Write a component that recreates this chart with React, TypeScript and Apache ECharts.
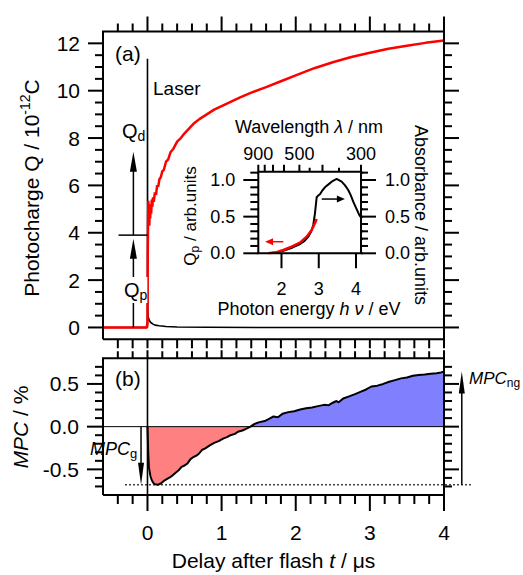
import React, { useEffect, useRef } from "react";
import * as echarts from "echarts";

const FONT = '"Liberation Sans", Arial, Helvetica, sans-serif';
const HC = 1240; // eV·nm, photon energy <-> wavelength

// ---------- Panel (a): photocharge vs delay ----------
const photochargeRed: number[][] = [
  [-0.6, 0], [-0.01, 0], [0, 0.2], [0.004, 3.2], [0.008, 4.5], [0.012, 5.35], [0.016, 4.7],
  [0.02, 5.1], [0.025, 4.3], [0.03, 5.2], [0.036, 4.6], [0.042, 5.0], [0.05, 4.8], [0.058, 5.4],
  [0.066, 5.1], [0.075, 5.5], [0.085, 5.3], [0.1, 5.7], [0.115, 5.6], [0.13, 6.0], [0.145, 5.95],
  [0.16, 6.25], [0.18, 6.35], [0.2, 6.6], [0.22, 6.65], [0.25, 7.0], [0.28, 7.1], [0.31, 7.4],
  [0.35, 7.55], [0.4, 7.85], [0.45, 8.0], [0.5, 8.2], [0.56, 8.4], [0.62, 8.6], [0.7, 8.8],
  [0.8, 9.0], [0.9, 9.2], [1.0, 9.35], [1.1, 9.5], [1.25, 9.72], [1.4, 9.92], [1.6, 10.15],
  [1.8, 10.4], [2.0, 10.65], [2.25, 10.95], [2.5, 11.2], [2.75, 11.42], [3.0, 11.6],
  [3.25, 11.77], [3.5, 11.9], [3.75, 12.02], [4.0, 12.12],
];
const laserSignal: number[][] = [
  [-0.6, 0], [0, 0], [0, 11.35], [0.002, 2.0], [0.004, 0.8], [0.01, 0.45], [0.02, 0.33],
  [0.04, 0.22], [0.07, 0.15], [0.1, 0.1], [0.16, 0.07], [0.25, 0.04], [0.4, 0.02], [0.8, 0.01],
  [1.5, 0], [4.0, 0],
];

// ---------- Panel (b): MPC vs delay ----------
const mpcCurve: number[][] = [
  [0.0, 0], [0.01, -0.3], [0.02, -0.48], [0.04, -0.58], [0.06, -0.63], [0.08, -0.66],
  [0.1, -0.675], [0.14, -0.68], [0.18, -0.665], [0.22, -0.635], [0.26, -0.615], [0.3, -0.595],
  [0.34, -0.57], [0.38, -0.54], [0.42, -0.51], [0.46, -0.47], [0.5, -0.455], [0.54, -0.43],
  [0.58, -0.38], [0.62, -0.355], [0.66, -0.34], [0.7, -0.31], [0.74, -0.27], [0.78, -0.255],
  [0.84, -0.22], [0.9, -0.19], [0.96, -0.17], [1.02, -0.14], [1.08, -0.12], [1.12, -0.1],
  [1.18, -0.085], [1.22, -0.06], [1.28, -0.045], [1.33, -0.025], [1.39, 0], [1.44, 0.03],
  [1.5, 0.05], [1.58, 0.065], [1.64, 0.09], [1.7, 0.12], [1.76, 0.11], [1.82, 0.15],
  [1.9, 0.17], [1.98, 0.18], [2.06, 0.2], [2.14, 0.215], [2.22, 0.225], [2.3, 0.24],
  [2.38, 0.255], [2.44, 0.25], [2.5, 0.28], [2.55, 0.3], [2.58, 0.285], [2.64, 0.33],
  [2.72, 0.355], [2.8, 0.38], [2.88, 0.41], [2.95, 0.435], [3.02, 0.47], [3.1, 0.48],
  [3.18, 0.5], [3.26, 0.525], [3.34, 0.545], [3.42, 0.565], [3.5, 0.575], [3.58, 0.595],
  [3.66, 0.605], [3.74, 0.61], [3.82, 0.62], [3.9, 0.625], [3.96, 0.635], [4.0, 0.645],
];

// ---------- Inset: spectra vs photon energy ----------
const absorbanceSpectrum: number[][] = [
  [1.646, 0], [1.85, 0.012], [2.05, 0.035], [2.3, 0.08], [2.5, 0.127], [2.62, 0.17],
  [2.72, 0.227], [2.8, 0.3], [2.853, 0.386], [2.898, 0.545], [2.944, 0.764], [2.99, 0.79],
  [3.032, 0.805], [3.1, 0.86], [3.166, 0.9], [3.26, 0.94], [3.346, 0.977], [3.48, 1.014],
  [3.614, 0.977], [3.7, 0.93], [3.79, 0.864], [3.86, 0.79], [3.925, 0.704], [4.0, 0.62],
  [4.086, 0.523], [4.133, 0.49],
];
const qpSpectrum: number[][] = [
  [1.646, 0], [1.871, 0.014], [2.05, 0.045], [2.273, 0.09], [2.496, 0.145], [2.675, 0.227],
  [2.81, 0.318], [2.898, 0.41], [2.944, 0.468],
];

// ---------- ticks & labels ----------
const delayTicks = [0, 1, 2, 3, 4];
const chargeTicks = [0, 2, 4, 6, 8, 10, 12];
const mpcTicks = [-0.5, 0, 0.5];
const insetValueTicks = [0, 0.5, 1.0];
const energyTicks = [2, 3, 4];
const wavelengthMajor = [900, 800, 700, 600, 500, 400, 300];
const wavelengthMinor = [450, 350];
const wavelengthLabels = [900, 500, 300];

// ---------- annotations (data units) ----------
const chargeArrows: number[][] = [[-0.19, 0, -0.19, 3.75], [-0.19, 3.9, -0.19, 7.42]];
const chargeLevel: number[][] = [[-0.39, 3.9, 0, 3.9]];
const insetRedArrow: number[][] = [[2.05, 0.158, 1.56, 0.158]];
const insetBlackArrow: number[][] = [[3.08, 0.74, 3.7, 0.74]];
const mpcGArrowT = -0.087;
const mpcNgArrowT = 4.24;
const mpcDotted = [-0.3, 4.36];

// ranges
const DELAY: [number, number] = [-0.6, 4];
const CHARGE: [number, number] = [-0.5, 12.5];
const MPC: [number, number] = [-0.8, 0.8];
const ENERGY: [number, number] = [HC / 900, HC / 300];
const INSET_Y: [number, number] = [0, 1.113];

// plot boxes (pixels)
type Box = { left: number; top: number; width: number; height: number };
const GRID_A: Box = { left: 103, top: 31.5, width: 341, height: 307.8 };
const GRID_B: Box = { left: 103, top: 358.3, width: 341, height: 136.7 };
const GRID_I: Box = { left: 258.3, top: 171.7, width: 102.7, height: 81.6 };

function steps(from: number, to: number, step: number, skip: number[]): number[] {
  const out: number[] = [];
  for (let i = 0; ; i++) {
    const v = +(from + i * step).toFixed(6);
    if (v > to + 1e-9) break;
    if (!skip.some((s) => Math.abs(s - v) < 1e-9)) out.push(v);
  }
  return out;
}

type AxisSpec = {
  grid: number;
  position: string;
  range: [number, number];
  labels?: number[];
  fmt?: (v: number) => string;
  margin?: number;
  fontSize?: number;
};

function axis(s: AxisSpec): any {
  return {
    type: "value",
    gridIndex: s.grid,
    position: s.position,
    min: s.range[0],
    max: s.range[1],
    axisLine: { show: false, onZero: false },
    axisTick: { show: false },
    minorTick: { show: false },
    splitLine: { show: false },
    axisPointer: { show: false },
    axisLabel: s.labels
      ? {
          show: true,
          customValues: s.labels,
          formatter: s.fmt,
          margin: s.margin,
          fontSize: s.fontSize,
          color: "#000",
          fontFamily: FONT,
          showMinLabel: true,
          showMaxLabel: true,
        }
      : { show: false },
  };
}

type TickGroup = { side: "bottom" | "top" | "left" | "right"; values: number[]; len: number };
type Panel = {
  xi: number; yi: number; xr: [number, number]; yr: [number, number];
  box: Box; groups: TickGroup[];
};

// frame + outward ticks as one broken polyline (data units), drawn by a line series
function frameAndTicks(p: Panel): any[] {
  const dxPx = (p.xr[1] - p.xr[0]) / p.box.width;
  const dyPx = (p.yr[1] - p.yr[0]) / p.box.height;
  const gap = ["-", "-"];
  const pts: any[] = [
    [p.xr[0], p.yr[0]], [p.xr[1], p.yr[0]], [p.xr[1], p.yr[1]], [p.xr[0], p.yr[1]], [p.xr[0], p.yr[0]], gap,
  ];
  for (const g of p.groups) {
    for (const v of g.values) {
      if (g.side === "bottom") pts.push([v, p.yr[0]], [v, p.yr[0] - g.len * dyPx], gap);
      else if (g.side === "top") pts.push([v, p.yr[1]], [v, p.yr[1] + g.len * dyPx], gap);
      else if (g.side === "left") pts.push([p.xr[0], v], [p.xr[0] - g.len * dxPx, v], gap);
      else pts.push([p.xr[1], v], [p.xr[1] + g.len * dxPx, v], gap);
    }
  }
  return pts;
}

// left/right tick marks as graphic lines, placed with the panel's linear value→pixel scale
function sideTickGraphics(p: Panel): any[] {
  const toY = (v: number) => p.box.top + ((p.yr[1] - v) / (p.yr[1] - p.yr[0])) * p.box.height;
  const xL = p.box.left;
  const xR = p.box.left + p.box.width;
  const out: any[] = [];
  for (const g of p.groups) {
    if (g.side !== "left" && g.side !== "right") continue;
    for (const v of g.values) {
      const y = toY(v);
      const x0 = g.side === "left" ? xL : xR;
      const x1 = g.side === "left" ? xL - g.len : xR + g.len;
      out.push({
        type: "line",
        z: 50,
        silent: true,
        shape: { x1: x0, y1: y, x2: x1, y2: y },
        style: { stroke: "#000", lineWidth: 2 },
      });
    }
  }
  return out;
}

function segmentRenderer(color: string, width: number, dash?: number[]) {
  return (_p: any, api: any) => {
    const a = api.coord([api.value(0), api.value(1)]);
    const b = api.coord([api.value(2), api.value(3)]);
    return {
      type: "line",
      shape: { x1: a[0], y1: a[1], x2: b[0], y2: b[1] },
      style: { stroke: color, lineWidth: width, lineDash: dash },
    };
  };
}

function arrowRenderer(color: string, width: number, headLen: number, headHalf: number) {
  return (_p: any, api: any) => {
    const a = api.coord([api.value(0), api.value(1)]);
    const b = api.coord([api.value(2), api.value(3)]);
    const dx = b[0] - a[0];
    const dy = b[1] - a[1];
    const L = Math.hypot(dx, dy) || 1;
    const ux = dx / L;
    const uy = dy / L;
    const bx = b[0] - ux * headLen;
    const by = b[1] - uy * headLen;
    const nx = -uy * headHalf;
    const ny = ux * headHalf;
    return {
      type: "group",
      children: [
        {
          type: "line",
          shape: { x1: a[0], y1: a[1], x2: bx + ux * 2, y2: by + uy * 2 },
          style: { stroke: color, lineWidth: width },
        },
        {
          type: "polygon",
          shape: { points: [[b[0], b[1]], [bx + nx, by + ny], [bx - nx, by - ny]] },
          style: { fill: color },
        },
      ],
    };
  };
}

function buildOption(): any {
  const xAxes: any[] = [];
  const yAxes: any[] = [];
  const add = (list: any[], s: AxisSpec) => {
    list.push(axis(s));
    return list.length - 1;
  };
  const intFmt = (v: number) => String(Math.round(v));
  const oneDec = (v: number) => v.toFixed(1);

  const delayMinor = steps(-0.4, 3.8, 0.2, delayTicks);
  const chargeMinor = steps(0.5, 12, 0.5, chargeTicks);
  const mpcMinor = steps(-0.7, 0.7, 0.1, mpcTicks);
  const insetMinor = steps(0.1, 1.1, 0.1, insetValueTicks);
  const wlMajorE = wavelengthMajor.map((w) => HC / w);
  const wlMinorE = wavelengthMinor.map((w) => HC / w);

  const aX = add(xAxes, { grid: 0, position: "bottom", range: DELAY });
  const aY = add(yAxes, { grid: 0, position: "left", range: CHARGE, labels: chargeTicks, fmt: intFmt, margin: 23, fontSize: 21 });
  const bX = add(xAxes, { grid: 1, position: "bottom", range: DELAY, labels: delayTicks, fmt: intFmt, margin: 27, fontSize: 21 });
  const bY = add(yAxes, { grid: 1, position: "left", range: MPC, labels: mpcTicks, fmt: oneDec, margin: 24, fontSize: 21 });
  const iX = add(xAxes, { grid: 2, position: "bottom", range: ENERGY, labels: energyTicks, fmt: intFmt, margin: 27, fontSize: 18 });
  add(xAxes, {
    grid: 2, position: "top", range: ENERGY, labels: wavelengthLabels.map((w) => HC / w),
    fmt: (e: number) => String(Math.round(HC / e)), margin: 9, fontSize: 18,
  });
  const iY = add(yAxes, { grid: 2, position: "left", range: INSET_Y, labels: insetValueTicks, fmt: oneDec, margin: 23, fontSize: 18 });
  add(yAxes, { grid: 2, position: "right", range: INSET_Y, labels: insetValueTicks, fmt: oneDec, margin: 24, fontSize: 18 });

  const panels: Panel[] = [
    {
      xi: aX, yi: aY, xr: DELAY, yr: CHARGE, box: GRID_A,
      groups: [
        { side: "bottom", values: delayTicks, len: 9 }, { side: "bottom", values: delayMinor, len: 9 },
        { side: "top", values: delayTicks, len: 15 }, { side: "top", values: delayMinor, len: 8 },
        { side: "left", values: chargeTicks, len: 15 }, { side: "left", values: chargeMinor, len: 8 },
        { side: "right", values: chargeTicks, len: 15 }, { side: "right", values: chargeMinor, len: 8 },
      ],
    },
    {
      xi: bX, yi: bY, xr: DELAY, yr: MPC, box: GRID_B,
      groups: [
        { side: "bottom", values: delayTicks, len: 16 }, { side: "bottom", values: delayMinor, len: 9 },
        { side: "top", values: delayTicks, len: 8 }, { side: "top", values: delayMinor, len: 7 },
        { side: "left", values: mpcTicks, len: 16 }, { side: "left", values: mpcMinor, len: 8 },
        { side: "right", values: mpcTicks, len: 15 }, { side: "right", values: mpcMinor, len: 8 },
      ],
    },
    {
      xi: iX, yi: iY, xr: ENERGY, yr: INSET_Y, box: GRID_I,
      groups: [
        { side: "bottom", values: energyTicks, len: 15 },
        { side: "top", values: wlMajorE, len: 7 }, { side: "top", values: wlMinorE, len: 4 },
        { side: "left", values: insetValueTicks, len: 15 }, { side: "left", values: insetMinor, len: 8 },
        { side: "right", values: insetValueTicks, len: 15 }, { side: "right", values: insetMinor, len: 7 },
      ],
    },
  ];

  const mpcValues = mpcCurve.map((p) => p[1]);
  const mpcMin = Math.min(...mpcValues);
  const mpcEnd = mpcValues[mpcValues.length - 1];
  const cross = mpcCurve.findIndex((p, i) => i > 0 && p[1] >= 0);
  const mpcNegative = mpcCurve.slice(0, cross + 1);
  const mpcPositive = mpcCurve.slice(cross);

  const lineSeries = (xi: number, yi: number, data: any[], color: string, width: number, z: number, extra: any = {}) => ({
    type: "line",
    xAxisIndex: xi,
    yAxisIndex: yi,
    data,
    symbol: "none",
    showSymbol: false,
    silent: true,
    z,
    lineStyle: { color, width },
    ...extra,
  });
  const customSeries = (xi: number, yi: number, data: number[][], renderItem: any, z: number) => ({
    type: "custom",
    xAxisIndex: xi,
    yAxisIndex: yi,
    data,
    dimensions: ["x1", "y1", "x2", "y2"],
    encode: { x: [0, 2], y: [1, 3] },
    renderItem,
    silent: true,
    clip: false,
    z,
  });

  const series: any[] = [
    lineSeries(aX, aY, laserSignal, "#000", 1.6, 3),
    lineSeries(aX, aY, photochargeRed, "#ff0000", 2.5, 4),
    customSeries(aX, aY, chargeLevel, segmentRenderer("#000", 1.5), 5),
    customSeries(aX, aY, chargeArrows, arrowRenderer("#000", 1.5, 20, 3.5), 5),
    lineSeries(bX, bY, mpcNegative, "#ff8080", 0, 2, { areaStyle: { color: "#ff8080", opacity: 1, origin: 0 } }),
    lineSeries(bX, bY, mpcPositive, "#8080ff", 0, 2, { areaStyle: { color: "#8080ff", opacity: 1, origin: 0 } }),
    customSeries(bX, bY, [[DELAY[0], 0, DELAY[1], 0]], segmentRenderer("#000", 1), 3),
    customSeries(bX, bY, [[0, MPC[0], 0, MPC[1]]], segmentRenderer("#000", 1.6), 3),
    lineSeries(bX, bY, mpcCurve, "#000", 2, 4),
    customSeries(bX, bY, [[mpcDotted[0], mpcMin, mpcDotted[1], mpcMin]], segmentRenderer("#000", 1.5, [1.5, 2.5]), 5),
    customSeries(
      bX, bY,
      [[mpcGArrowT, 0, mpcGArrowT, mpcMin], [mpcNgArrowT, mpcMin, mpcNgArrowT, mpcEnd]],
      arrowRenderer("#000", 1.5, 22, 3),
      5
    ),
    lineSeries(iX, iY, absorbanceSpectrum, "#000", 2, 6),
    lineSeries(iX, iY, qpSpectrum, "#ff0000", 2.5, 7),
    customSeries(iX, iY, insetRedArrow, arrowRenderer("#ff0000", 1.5, 8, 3.5), 7),
    customSeries(iX, iY, insetBlackArrow, arrowRenderer("#000", 1.5, 8, 3.5), 7),
    // frames and tick marks
    ...panels.map((p) =>
      lineSeries(p.xi, p.yi, frameAndTicks(p), "#000", 2, 10, { clip: false, connectNulls: false, lineStyle: { color: "#000", width: 2, cap: "butt", join: "miter" } })
    ),
  ];

  const txt = (x: number, y: number, text: string, opts: any = {}) => ({
    type: "text",
    x,
    y,
    z: 100,
    rotation: opts.rotation || 0,
    style: {
      text,
      fill: "#000",
      fontSize: opts.fontSize || 20,
      fontFamily: FONT,
      align: opts.align || "left",
      verticalAlign: "middle",
      rich: opts.rich,
      backgroundColor: opts.bg,
      padding: opts.padding,
    },
  });
  const sub = (main: number, s: number, italic = false) => ({
    m: { fontSize: main, fontFamily: FONT, fontStyle: italic ? "italic" : "normal", lineHeight: main + 4, verticalAlign: "middle" },
    s: { fontSize: s, fontFamily: FONT, lineHeight: s, verticalAlign: "bottom" },
  });
  const plainItalic = (size: number) => ({
    t: { fontSize: size, fontFamily: FONT },
    i: { fontSize: size, fontFamily: FONT, fontStyle: "italic" },
  });

  const texts: any[] = [
    txt(115, 53, "(a)", { fontSize: 21 }),
    txt(153, 88, "Laser", { fontSize: 19 }),
    txt(122, 131, "{m|Q}{s|d}", { rich: sub(20, 14) }),
    txt(124, 290, "{m|Q}{s|p}", { rich: sub(20, 14), bg: "#fff", padding: [1, 0] }),
    txt(115, 378, "(b)", { fontSize: 21 }),
    txt(90, 449, "{m|MPC}{s|g}", { rich: sub(18, 13, true) }),
    txt(469, 378, "{m|MPC}{s|ng}", { rich: sub(17, 12, true) }),
    txt(309, 127, "{t|Wavelength }{i|λ}{t| / nm}", { align: "center", rich: plainItalic(18) }),
    txt(309, 309, "{t|Photon energy }{i|h ν}{t| / eV}", { align: "center", rich: plainItalic(18) }),
    txt(190, 216, "{m|Q}{s|p}{m| / arb.units}", { align: "center", rotation: Math.PI / 2, rich: sub(17, 12) }),
    txt(421, 215, "Absorbance / arb.units", { align: "center", rotation: -Math.PI / 2, fontSize: 18 }),
    txt(31, 188, "{t|Photocharge Q / 10}{sup|-12}{t|C}", {
      align: "center",
      rotation: Math.PI / 2,
      rich: {
        t: { fontSize: 21, fontFamily: FONT, lineHeight: 26, verticalAlign: "middle" },
        sup: { fontSize: 14, fontFamily: FONT, lineHeight: 14, verticalAlign: "top" },
      },
    }),
    txt(20, 427, "{i|MPC}{t| / %}", { align: "center", rotation: Math.PI / 2, rich: plainItalic(21) }),
    txt(273.5, 560, "{t|Delay after flash }{i|t}{t| / μs}", { align: "center", rich: plainItalic(21) }),
  ];

  const sideTicks: any[] = [];
  panels.forEach((p) => sideTicks.push(...sideTickGraphics(p)));

  const gridBase = { containLabel: false, outerBoundsMode: "none", show: false };
  return {
    animation: false,
    backgroundColor: "#fff",
    textStyle: { fontFamily: FONT, color: "#000" },
    grid: [
      { ...gridBase, ...GRID_A },
      { ...gridBase, ...GRID_B },
      { ...gridBase, ...GRID_I },
    ],
    xAxis: xAxes,
    yAxis: yAxes,
    series,
    graphic: [...texts, ...sideTicks],
  };
}

export default function App() {
  const ref = useRef<HTMLDivElement>(null);
  useEffect(() => {
    if (!ref.current) return;
    const chart = echarts.init(ref.current, undefined, { renderer: "svg" });
    chart.setOption(buildOption());
    return () => chart.dispose();
  }, []);
  return (
    <div
      ref={ref}
      style={{ position: "absolute", left: 0, top: 0, width: 523, height: 575, background: "#fff" }}
    />
  );
}
